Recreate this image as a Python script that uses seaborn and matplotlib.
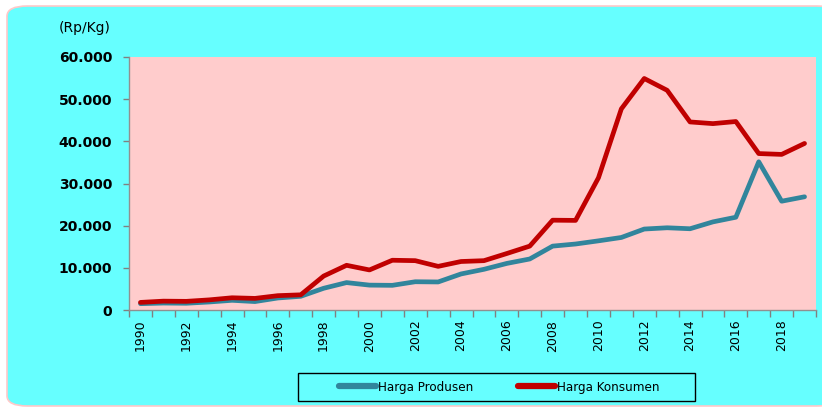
import pandas as pd
import matplotlib
matplotlib.use("Agg")
import matplotlib.pyplot as plt
import matplotlib.ticker as ticker
from matplotlib.patches import FancyBboxPatch, Rectangle
import seaborn as sns

years = list(range(1990, 2020))
harga_produsen = [1500, 1650, 1600, 1900, 2300, 2000, 2850, 3250, 5150, 6500,
                  5900, 5850, 6700, 6650, 8550, 9650, 11050, 12100, 15150, 15650,
                  16400, 17200, 19200, 19500, 19270, 20900, 22000, 35150, 25800, 26850]
harga_konsumen = [1800, 2100, 2050, 2400, 2900, 2750, 3400, 3600, 8050, 10600,
                  9500, 11800, 11700, 10350, 11500, 11700, 13400, 15150, 21300, 21250,
                  31350, 47700, 54900, 52100, 44600, 44200, 44700, 37100, 36900, 39500]
series_names = ["Harga Produsen", "Harga Konsumen"]
colors = ["#31859C", "#C00000"]

df = pd.DataFrame({"Tahun": years,
                   series_names[0]: harga_produsen,
                   series_names[1]: harga_konsumen})
long = df.melt(id_vars="Tahun", var_name="Seri", value_name="Harga")

sns.set_theme(style="white")
plt.rcParams["font.family"] = ["DejaVu Sans"]
plt.rcParams["text.color"] = "black"
plt.rcParams["xtick.labelcolor"] = "black"
plt.rcParams["ytick.labelcolor"] = "black"

fig = plt.figure(figsize=(8.22, 4.09), dpi=100)
fig.patch.set_facecolor("white")

# rounded cyan panel behind the chart
panel = FancyBboxPatch((7 / 822, 3 / 409), 830 / 822, 400 / 409,
                       boxstyle="round,pad=0,rounding_size=0.025",
                       transform=fig.transFigure, facecolor="#66FFFF",
                       edgecolor="#FFC8C8", linewidth=1.2, zorder=-10)
fig.patches.append(panel)

ax = fig.add_axes([129 / 822, 99 / 409, 687 / 822, 253 / 409])
ax.set_zorder(2)
ax.set_facecolor("#FFCCCC")

sns.lineplot(data=long, x="Tahun", y="Harga", hue="Seri", hue_order=series_names,
             palette=colors, linewidth=3.4, ax=ax, legend=False)

ax.set_xlim(1989.5, 2019.5)
ax.set_ylim(0, 60000)

ax.yaxis.set_major_locator(ticker.MultipleLocator(10000))
ax.yaxis.set_major_formatter(ticker.FuncFormatter(lambda v, p: f"{int(v):,}".replace(",", ".")))
ax.tick_params(axis="y", labelsize=10, length=4, width=1, color="#808080",
               left=True, direction="out", pad=8, labelcolor="black")
for lab in ax.get_yticklabels():
    lab.set_fontweight("bold")

ax.set_xticks(years[::2])
ax.set_xticklabels([str(y) for y in years[::2]], rotation=90)
ax.xaxis.set_minor_locator(ticker.FixedLocator([y - 0.5 for y in years] + [2019.5]))
ax.tick_params(axis="x", which="major", length=0, labelsize=9, pad=7, labelcolor="black")
ax.tick_params(axis="x", which="minor", length=5, width=1, color="#808080",
               bottom=True, direction="out")

for side in ["top", "right"]:
    ax.spines[side].set_visible(False)
for side in ["left", "bottom"]:
    ax.spines[side].set_color("#909090")
    ax.spines[side].set_linewidth(1)

ax.set_xlabel("")
ax.set_ylabel("")
fig.text(85 / 822, 1 - 28 / 409, "(Rp/Kg)", ha="center", va="center", fontsize=10,
         color="black")

# legend box
fig.patches.append(Rectangle((298 / 822, 1 - 401 / 409), 397 / 822, 28 / 409,
                             transform=fig.transFigure, facecolor="none",
                             edgecolor="black", linewidth=1, zorder=4))
handles = [plt.Line2D([], [], color=c, linewidth=4.5) for c in colors]
leg = fig.legend(handles, series_names, loc="center",
                 bbox_to_anchor=(499 / 822, 1 - 387 / 409), ncol=2,
                 frameon=False, handlelength=2.8, handletextpad=0.15,
                 columnspacing=3.4, prop={"size": 9.5, "stretch": "condensed"})
leg.set_zorder(5)
for t in leg.get_texts():
    t.set_color("black")

fig.savefig("out.png", dpi=100, facecolor=fig.get_facecolor())
